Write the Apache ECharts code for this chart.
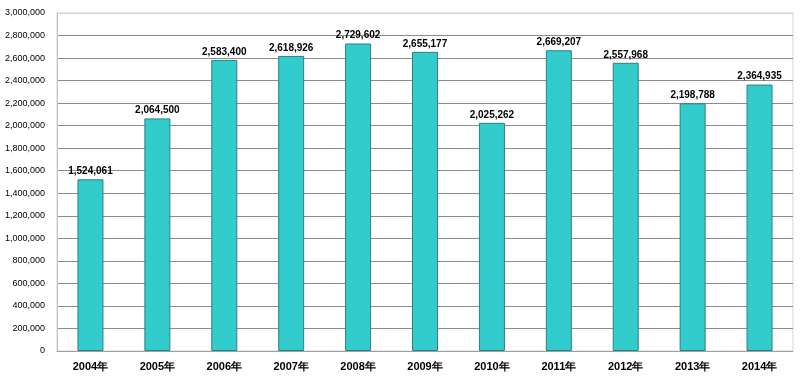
<!DOCTYPE html>
<html><head><meta charset="utf-8">
<script src="https://cdn.jsdelivr.net/npm/echarts@6/dist/echarts.min.js"></script>
<style>html,body{margin:0;padding:0;background:#fff}#c{width:800px;height:381px}</style>
</head><body><div id="c"></div>
<script>
const categories = ['2004年','2005年','2006年','2007年','2008年','2009年','2010年','2011年','2012年','2013年','2014年'];
const values = [1524061,2064500,2583400,2618926,2729602,2655177,2025262,2669207,2557968,2198788,2364935];
const yMin = 0, yMax = 3000000, yStep = 200000;

const nLines = Math.round((yMax - yMin) / yStep) + 1;
const splitColors = [];
for (let i = 0; i < nLines; i++) splitColors.push(i === nLines - 1 ? '#d4d4d4' : '#8c8c8c');

const chart = echarts.init(document.getElementById('c'), null, {renderer:'canvas'});
const fmt = v => v.toLocaleString('en-US');
chart.setOption({
  animation:false,
  grid:{left:57,right:7,top:13,bottom:30,show:true,borderColor:'#d4d4d4',borderWidth:1,backgroundColor:'#fff'},
  xAxis:{type:'category',data:categories,
    axisLine:{lineStyle:{color:'#a0a0a0',width:1}},
    axisTick:{inside:true,length:3,lineStyle:{color:'#a0a0a0'}},
    axisLabel:{color:'#000',fontFamily:'Arial, Liberation Sans',fontWeight:'bold',fontSize:11,margin:10}},
  yAxis:{type:'value',min:yMin,max:yMax,interval:yStep,
    axisLine:{show:true,lineStyle:{color:'#c0c0c0'}},
    axisTick:{show:false},
    splitLine:{lineStyle:{color:splitColors,width:1}},
    axisLabel:{color:'#000',fontFamily:'Arial, Liberation Sans',fontSize:9,margin:12,formatter:fmt}},
  series:[{type:'bar',data:values,barWidth:26,
    itemStyle:{color:'#33cccc',borderColor:'#2f8080',borderWidth:1},
    label:{show:true,position:'top',distance:3,color:'#000',fontFamily:'Arial, Liberation Sans',fontWeight:'bold',fontSize:10,formatter:p=>fmt(p.value)}}]
});
</script></body></html>
